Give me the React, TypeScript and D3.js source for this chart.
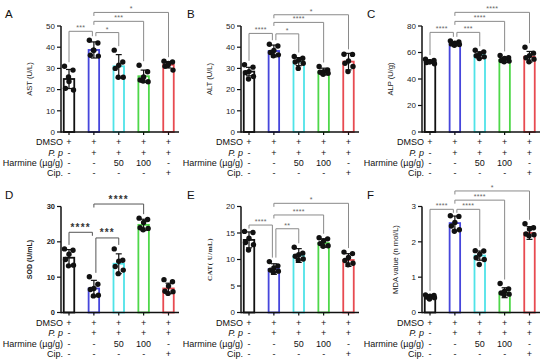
import React from 'react'
import * as d3 from 'd3'

// treatment groups (one bar each) and the table under each panel
const groupColors = ['#111111', '#4646dc', '#4fe3e8', '#4fd84a', '#e84a50']
const rowLabels = ['DMSO', 'P. p', 'Harmine (µg/g)', 'Cip.']
const rowMarks = [
  ['+', '+', '+', '+', '+'],
  ['-', '+', '+', '+', '+'],
  ['-', '-', '50', '100', '-'],
  ['-', '-', '-', '-', '+'],
]

// A: AST
const astMeans = [25, 38.7, 31, 26.3, 31.7]
const astSD = [4.5, 3.8, 5.5, 2.9, 1.5]
const astPts = [
  [31, 29.2, 23.8, 20.6, 19.8, 26],
  [43.3, 42, 38.6, 36.2, 35.8, 38.6],
  [38.6, 33, 31.5, 30, 25.8, 25.8],
  [31.5, 28.4, 26, 24.5, 23.7, 24],
  [33.4, 33, 32.3, 31, 29.2, 31.5],
]
const astSig: [number, number, string, number][] = [[0, 1, '***', 47.5], [1, 2, '*', 46.9], [1, 3, '***', 52.2], [1, 4, '*', 56.4]]

// B: ALT
const altMeans = [28.5, 38.2, 33.2, 28.5, 33.2]
const altSD = [2, 2.8, 1.9, 1.6, 3.9]
const altPts = [
  [31.7, 30.6, 28.5, 28, 26.2, 25],
  [41.4, 40.6, 38.5, 37.5, 36.4, 36],
  [35.6, 34.8, 34, 33, 32.4, 30],
  [30.9, 29.3, 28.5, 28.2, 27.7, 27.2],
  [36.7, 36.6, 33.5, 32.4, 30.9, 28.5],
]
const altSig: [number, number, string, number][] = [[0, 1, '****', 46.5], [1, 2, '*', 46.3], [1, 3, '****', 51.7], [1, 4, '*', 55.3]]

// C: ALP
const alpMeans = [53, 66.3, 58, 54.3, 56.8]
const alpSD = [1, 1.2, 2.5, 1.8, 4]
const alpPts = [
  [55, 54, 53, 52.5, 51.5, 53],
  [68.8, 68, 67, 66.5, 66, 65.5],
  [61.7, 60.5, 59, 57.5, 56.7, 55.5],
  [57.8, 56, 55.5, 54, 53.5, 53],
  [64, 59.5, 57.5, 56, 55, 53],
]
const alpSig: [number, number, string, number][] = [[0, 1, '****', 75.2], [1, 2, '***', 75.2], [1, 3, '****', 83.5], [1, 4, '****', 90.3]]

// D: SOD
const sodMeans = [15.5, 6.8, 13.8, 24.8, 6.8]
const sodSD = [2.3, 2.3, 2.8, 1.6, 1.5]
const sodPts = [
  [18, 17.6, 16.5, 15, 13.4, 13.2],
  [10.1, 8, 6.8, 6.5, 4.9, 4.7],
  [18, 14.8, 14.5, 13, 12, 11],
  [26.7, 26.3, 25.5, 24, 23.8, 23.4],
  [9.3, 8.7, 7.5, 6, 5.9, 5.4],
]
const sodSig: [number, number, string, number][] = [[0, 1, '****', 22.7], [1, 2, '***', 21.1], [1, 3, '****', 30.7]]

// E: CAT
const catMeans = [13.7, 8.2, 10.75, 13.1, 9.9]
const catSD = [1.5, 1, 1.3, 0.8, 1.2]
const catPts = [
  [15.3, 15.1, 14, 13.2, 12.8, 11.8],
  [9.6, 8.8, 8.4, 8, 7.8, 7.6],
  [12.3, 11.2, 10.9, 10.6, 10.1, 9.9],
  [14.1, 13.9, 13.5, 13, 12.6, 12.5],
  [11.4, 11.1, 10.4, 9.8, 9.3, 9],
]
const catSig: [number, number, string, number][] = [[0, 1, '****', 16.5], [1, 2, '**', 15.8], [1, 3, '****', 18.4], [1, 4, '*', 20.6]]

// F: MDA
const mdaMeans = [0.44, 2.53, 1.61, 0.56, 2.25]
const mdaSD = [0.04, 0.2, 0.13, 0.14, 0.18]
const mdaPts = [
  [0.5, 0.48, 0.46, 0.44, 0.42, 0.38],
  [2.74, 2.72, 2.55, 2.45, 2.34, 2.3],
  [1.75, 1.74, 1.65, 1.55, 1.5, 1.36],
  [0.82, 0.67, 0.6, 0.55, 0.52, 0.5],
  [2.51, 2.4, 2.36, 2.22, 2.2, 2.17],
]
const mdaSig: [number, number, string, number][] = [[0, 1, '****', 2.92], [1, 2, '****', 2.92], [1, 3, '****', 3.18], [1, 4, '*', 3.44]]

const panels = [
  { id: 'A', yLabel: 'AST (U/L)', max: 50, ticks: [0, 10, 20, 30, 40, 50], means: astMeans, sds: astSD, pts: astPts, sig: astSig, col: 0, row: 0 },
  { id: 'B', yLabel: 'ALT (U/L)', max: 50, ticks: [0, 10, 20, 30, 40, 50], means: altMeans, sds: altSD, pts: altPts, sig: altSig, col: 1, row: 0 },
  { id: 'C', yLabel: 'ALP (U/g)', max: 80, ticks: [0, 20, 40, 60, 80], means: alpMeans, sds: alpSD, pts: alpPts, sig: alpSig, col: 2, row: 0 },
  { id: 'D', yLabel: 'SOD (U/mL)', max: 30, ticks: [0, 10, 20, 30], means: sodMeans, sds: sodSD, pts: sodPts, sig: sodSig, col: 0, row: 1 },
  { id: 'E', yLabel: 'CAT( U/mL)', max: 20, ticks: [0, 5, 10, 15, 20], means: catMeans, sds: catSD, pts: catPts, sig: catSig, col: 1, row: 1 },
  { id: 'F', yLabel: 'MDA value (n mol/L)', max: 3, ticks: [0, 1, 2, 3], means: mdaMeans, sds: mdaSD, pts: mdaPts, sig: mdaSig, col: 2, row: 1 },
]

const colX = [61, 241, 422]
const rowY = [132, 312.5]
const plotH = 106
const jitter = [-4.5, 4, 0, -3.5, 4.5, -0.5]
const font = 'Liberation Sans, Arial, sans-serif'

const Panel: React.FC<{ p: (typeof panels)[number] }> = ({ p }) => {
  const ox = colX[p.col]
  const oy = rowY[p.row]
  const bold = p.id === 'D'
  const y = d3.scaleLinear().domain([0, p.max]).range([oy, oy - plotH])
  const x = d3.scalePoint<number>().domain(d3.range(5)).range([ox + 8, ox + 107.5])
  const cx = (i: number) => x(i) as number
  const barW = 10.5
  const groupTop = (i: number) => y(Math.max(d3.max(p.pts[i]) as number, p.means[i] + p.sds[i])) - 4
  const sigColor = bold ? '#555' : '#8a8a8a'

  const legEnd = (k: number, g: number, by: number) => {
    const lower = p.sig.some((s, m) => m !== k && (s[0] === g || s[1] === g) && y(s[3]) - by > 5)
    return lower ? by + 3.5 : Math.max(by + 3.5, groupTop(g))
  }

  return (
    <g>
      <text x={ox - 56 + (p.col === 0 ? 0 : p.col === 1 ? 2 : 1)} y={oy - 114} fontSize={11.5} fontFamily={font} fill="#111">
        {p.id}
      </text>
      {/* bars */}
      {p.means.map((m, i) => (
        <rect key={'b' + i} x={cx(i) - barW / 2} y={y(m)} width={barW} height={oy - y(m)} fill="#fff" stroke={groupColors[i]} strokeWidth={1.8} />
      ))}
      {/* error bars */}
      {p.means.map((m, i) => (
        <g key={'e' + i} stroke="#111" strokeWidth={1.2}>
          <line x1={cx(i)} x2={cx(i)} y1={y(m - p.sds[i])} y2={y(m + p.sds[i])} />
          <line x1={cx(i) - 3} x2={cx(i) + 3} y1={y(m + p.sds[i])} y2={y(m + p.sds[i])} />
          <line x1={cx(i) - 3} x2={cx(i) + 3} y1={y(m - p.sds[i])} y2={y(m - p.sds[i])} />
        </g>
      ))}
      {/* points */}
      {p.pts.map((arr, i) =>
        arr.map((v, k) => <circle key={'p' + i + '-' + k} cx={cx(i) + jitter[k]} cy={y(v)} r={2.7} fill="#111" />),
      )}
      {/* axes */}
      <line x1={ox} x2={ox} y1={oy + 0.75} y2={y(p.max)} stroke="#111" strokeWidth={1.5} />
      <line x1={ox} x2={ox + 118} y1={oy} y2={oy} stroke="#111" strokeWidth={1.5} />
      {p.ticks.map(t => (
        <g key={'t' + t}>
          <line x1={ox - 4} x2={ox} y1={y(t)} y2={y(t)} stroke="#111" strokeWidth={1.2} />
          <text x={ox - 6} y={y(t)} dy="0.34em" textAnchor="end" fontSize={bold ? 7.5 : 8} fontWeight={bold ? 'bold' : 'normal'} fontFamily={font} fill="#222">
            {t}
          </text>
        </g>
      ))}
      {d3.range(5).map(i => (
        <line key={'xt' + i} x1={cx(i)} x2={cx(i)} y1={oy} y2={oy + 3} stroke="#111" strokeWidth={1.2} />
      ))}
      <text
        transform={`translate(${ox - (p.id === 'F' ? 24 : 29)},${(oy + y(p.max)) / 2}) rotate(-90)`}
        textAnchor="middle"
        fontSize={p.id === 'E' ? 7 : bold ? 7 : 7.6}
        fontWeight={bold || p.id === 'E' ? 'bold' : 'normal'}
        fontFamily={p.id === 'E' ? 'Liberation Serif, serif' : font}
        letterSpacing={p.id === 'E' ? 0.5 : 0}
        fill="#222"
      >
        {p.yLabel}
      </text>
      {/* significance brackets */}
      {p.sig.map((s, k) => {
        const [i, j, lab, v] = s
        const by = y(v)
        const x1 = cx(i) + (j - i === 1 && i > 0 ? 2 : 0)
        const x2 = cx(j) - (j - i === 1 && i === 0 ? 1.5 : 0)
        return (
          <g key={'s' + k}>
            <path
              d={`M${x1},${legEnd(k, i, by)}V${by}H${x2}V${legEnd(k, j, by)}`}
              fill="none"
              stroke={sigColor}
              strokeWidth={1}
            />
            <text
              x={(x1 + x2) / 2}
              y={by - (bold ? 1.5 : 1)}
              textAnchor="middle"
              fontSize={bold ? 10 : 7}
              fontWeight={bold ? 'bold' : 'normal'}
              letterSpacing={bold ? 1.2 : 0.3}
              fontFamily={font}
              fill={bold ? '#333' : '#666'}
            >
              {lab}
            </text>
          </g>
        )
      })}
      {/* treatment table */}
      {rowLabels.map((lab, r) => (
        <g key={'r' + r} fontFamily={font} fontSize={9} fill="#111">
          <text x={ox + 2} y={oy + 13.2 + r * 10.4} textAnchor="end" fontStyle={r === 1 ? 'italic' : 'normal'}>
            {lab}
          </text>
          {rowMarks[r].map((m, i) => (
            <text key={i} x={cx(i)} y={oy + 13.2 + r * 10.4} textAnchor="middle">
              {m}
            </text>
          ))}
        </g>
      ))}
    </g>
  )
}

const App: React.FC = () => {
  return (
    <svg width={550} height={363} style={{ position: 'absolute', left: 0, top: 0, background: '#fff' }}>
      {panels.map(p => (
        <Panel key={p.id} p={p} />
      ))}
    </svg>
  )
}

export default App
